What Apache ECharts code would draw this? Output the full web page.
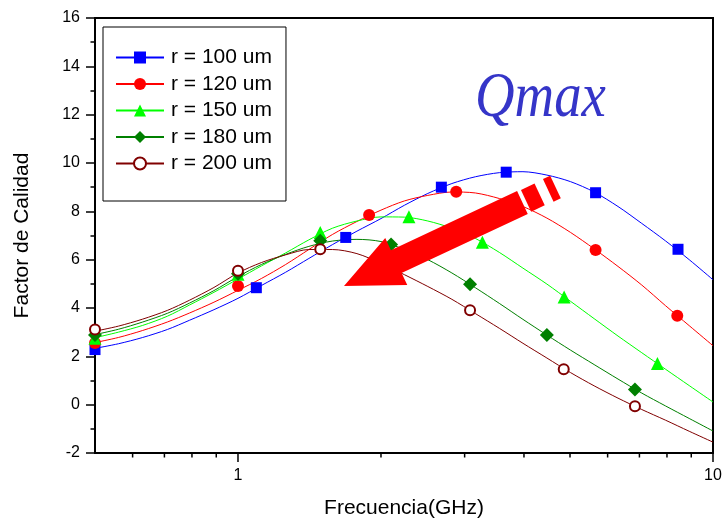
<!DOCTYPE html>
<html>
<head>
<meta charset="utf-8">
<script src="https://cdn.jsdelivr.net/npm/echarts@6/dist/echarts.min.js"></script>
<style>
  html, body { margin: 0; padding: 0; background: #fff; }
  #chart { width: 726px; height: 522px; }
</style>
</head>
<body>
<div id="chart"></div>
<script>
// Series labels
const seriesNames = ['r = 100 um', 'r = 120 um', 'r = 150 um', 'r = 180 um', 'r = 200 um'];

// Fitted curves, sampled at these frequencies (GHz)
const curveFreq = [0.5, 0.56, 0.63, 0.71, 0.79, 0.89, 1, 1.12, 1.26, 1.41, 1.58, 1.78, 2, 2.24, 2.51, 2.82, 3.16, 3.55, 3.98, 4.47, 5.01, 5.62, 6.31, 7.08, 7.94, 8.91, 10];
const curve100 = [2.33, 2.52, 2.78, 3.11, 3.49, 3.93, 4.40, 4.93, 5.48, 6.05, 6.62, 7.18, 7.70, 8.25, 8.74, 9.15, 9.43, 9.60, 9.64, 9.50, 9.23, 8.80, 8.20, 7.50, 6.78, 6.00, 5.17];
const curve120 = [2.57, 2.78, 3.07, 3.42, 3.79, 4.24, 4.73, 5.22, 5.80, 6.42, 7.04, 7.58, 8.05, 8.43, 8.66, 8.80, 8.76, 8.53, 8.20, 7.72, 7.13, 6.45, 5.72, 4.95, 4.10, 3.27, 2.44];
const curve150 = [2.77, 3.00, 3.28, 3.66, 4.12, 4.65, 5.20, 5.74, 6.28, 6.82, 7.30, 7.60, 7.77, 7.76, 7.60, 7.30, 6.88, 6.30, 5.65, 4.99, 4.28, 3.56, 2.84, 2.15, 1.47, 0.79, 0.11];
const curve180 = [2.90, 3.12, 3.42, 3.78, 4.20, 4.72, 5.30, 5.80, 6.22, 6.55, 6.77, 6.84, 6.75, 6.42, 6.00, 5.45, 4.84, 4.19, 3.53, 2.88, 2.26, 1.66, 1.06, 0.48, -0.05, -0.57, -1.09];
const curve200 = [3.04, 3.25, 3.54, 3.90, 4.32, 4.85, 5.45, 5.88, 6.20, 6.42, 6.42, 6.25, 5.85, 5.38, 4.89, 4.36, 3.77, 3.16, 2.54, 1.93, 1.33, 0.78, 0.27, -0.20, -0.64, -1.10, -1.55];

// Measured points: [frequency GHz, quality factor]
const points100 = [[0.5, 2.28], [1.093, 4.84], [1.686, 6.92], [2.68, 9.0], [3.67, 9.62], [5.66, 8.77], [8.44, 6.43]];
const points120 = [[0.5, 2.55], [1.0, 4.91], [1.888, 7.85], [2.88, 8.81], [5.66, 6.40], [8.41, 3.68]];
const points150 = [[0.5, 2.75], [1.0, 5.4], [1.49, 7.12], [2.29, 7.78], [3.27, 6.72], [4.86, 4.46], [7.64, 1.70]];
const points180 = [[0.5, 2.88], [1.0, 5.42], [1.49, 6.78], [2.10, 6.63], [3.08, 4.98], [4.47, 2.88], [6.85, 0.63]];
const points200 = [[0.5, 3.11], [1.0, 5.54], [1.49, 6.43], [3.08, 3.91], [4.85, 1.47], [6.85, -0.07]];

// Axis ranges and ticks
const xRange = [0.5, 10];
const yRange = [-2, 16];
const yStep = 2;
const xMajorTicks = [1, 10];
const xMinorTicks = [0.6, 0.7, 0.8, 0.9, 2, 3, 4, 5, 6, 7, 8, 9];

const curves = [curve100, curve120, curve150, curve180, curve200];
const points = [points100, points120, points150, points180, points200];
const colors = ['#0000ff', '#ff0000', '#00ff00', '#008000', '#800000'];
const symbols = ['rect', 'circle', 'triangle', 'diamond', 'emptyCircle'];
const symbolSizes = [11, 12, 13, 14, 10];

const FONT = '"Liberation Sans", Arial, sans-serif';

const chart = echarts.init(document.getElementById('chart'), null, { renderer: 'canvas' });

const lineSeries = seriesNames.map((name, i) => ({
  name: name,
  type: 'line',
  data: curveFreq.map((f, k) => [f, curves[i][k]]),
  smooth: 0.3,
  symbol: symbols[i],
  showSymbol: false,
  silent: true,
  lineStyle: { color: colors[i], width: 1 },
  itemStyle: { color: colors[i] },
  z: 2
}));

const markerSeries = seriesNames.map((name, i) => ({
  name: name,
  type: 'scatter',
  data: points[i],
  symbol: symbols[i],
  symbolSize: symbolSizes[i],
  itemStyle: symbols[i] === 'emptyCircle'
    ? { color: colors[i], borderColor: colors[i], borderWidth: 1.2, opacity: 1 }
    : { color: colors[i], opacity: 1 },
  z: 3
}));

// Tick marks along the frequency axis, placed through the log scale
function tickSeries(values, len) {
  return {
    type: 'custom',
    silent: true,
    clip: false,
    data: values.map(v => [v, yRange[0]]),
    renderItem: function (params, api) {
      const p = api.coord([api.value(0), api.value(1)]);
      return {
        type: 'line',
        shape: { x1: p[0], y1: p[1], x2: p[0], y2: p[1] + len },
        style: { stroke: '#000', lineWidth: 1.5 }
      };
    },
    z: 4
  };
}

// Arrow pointing from the high-frequency peaks towards lower frequency
function arrowGraphics() {
  const tip = [344, 286];
  const d = [0.906, -0.424];
  const m = Math.hypot(d[0], d[1]);
  const u = [d[0] / m, d[1] / m];
  const n = [-u[1], u[0]];
  const P = (s, w) => [tip[0] + u[0] * s + n[0] * w, tip[1] + u[1] * s + n[1] * w];
  const style = { fill: '#ff0000' };
  return [
    { type: 'polygon', z: 50, shape: { points: [P(0, 0), P(57.7, -26), P(57.7, -12.6), P(197, -12.6), P(197, 12.6), P(57.7, 12.6), P(57.7, 26)] }, style: style },
    { type: 'polygon', z: 50, shape: { points: [P(201, -12), P(216, -12), P(216, 12), P(201, 12)] }, style: style },
    { type: 'polygon', z: 50, shape: { points: [P(225.5, -12.5), P(233.5, -12.5), P(233.5, 12.5), P(225.5, 12.5)] }, style: style }
  ];
}

const option = {
  animation: false,
  backgroundColor: '#fff',
  grid: {
    left: 95, right: 13, top: 18, bottom: 69,
    show: true, borderColor: '#000', borderWidth: 2,
    outerBoundsMode: 'none'
  },
  legend: {
    orient: 'vertical',
    left: 103, top: 27,
    data: seriesNames,
    itemWidth: 48,
    itemHeight: 15,
    itemGap: 5.5,
    padding: [20, 14, 27, 12],
    borderColor: '#000',
    borderWidth: 1,
    backgroundColor: '#fff',
    selectedMode: false,
    textStyle: { fontFamily: FONT, fontSize: 21, color: '#000', padding: [0, 0, 0, 2] },
    z: 20
  },
  xAxis: {
    type: 'log',
    logBase: 10,
    min: xRange[0],
    max: xRange[1],
    name: 'Frecuencia(GHz)',
    nameLocation: 'middle',
    nameGap: 45,
    nameTextStyle: { fontFamily: FONT, fontSize: 21, color: '#000' },
    axisLine: { show: true, onZero: false, lineStyle: { color: '#000', width: 2 } },
    axisTick: { show: false },
    minorTick: { show: false },
    splitLine: { show: false },
    minorSplitLine: { show: false },
    axisLabel: {
      fontFamily: FONT, fontSize: 16, color: '#000', margin: 15,
      showMinLabel: false,
      formatter: function (v) {
        const hit = xMajorTicks.some(t => Math.abs(t - v) < 1e-6 * t);
        return hit ? String(Math.round(v)) : '';
      }
    }
  },
  yAxis: {
    type: 'value',
    min: yRange[0],
    max: yRange[1],
    interval: yStep,
    name: 'Factor de Calidad',
    nameLocation: 'middle',
    nameGap: 62,
    nameTextStyle: { fontFamily: FONT, fontSize: 21, color: '#000' },
    axisLine: { show: true, onZero: false, lineStyle: { color: '#000', width: 2 } },
    axisTick: { show: true, inside: false, length: 9, lineStyle: { color: '#000', width: 1.5 } },
    minorTick: { show: true, splitNumber: 2, length: 4.5, lineStyle: { color: '#000', width: 1.5 } },
    splitLine: { show: false },
    axisLabel: { fontFamily: FONT, fontSize: 16, color: '#000', margin: 15 }
  },
  graphic: [
    {
      type: 'text', z: 40, x: 475, y: 131, scaleX: 0.87,
      style: {
        text: 'Qmax', fill: '#3535c8',
        font: 'italic 63px "Liberation Serif", "Times New Roman", serif',
        textVerticalAlign: 'bottom', verticalAlign: 'bottom'
      }
    },
    ...arrowGraphics()
  ],
  series: [
    ...lineSeries,
    ...markerSeries,
    tickSeries(xMajorTicks, 9),
    tickSeries(xMinorTicks, 4.5)
  ]
};

chart.setOption(option);
</script>
</body>
</html>
